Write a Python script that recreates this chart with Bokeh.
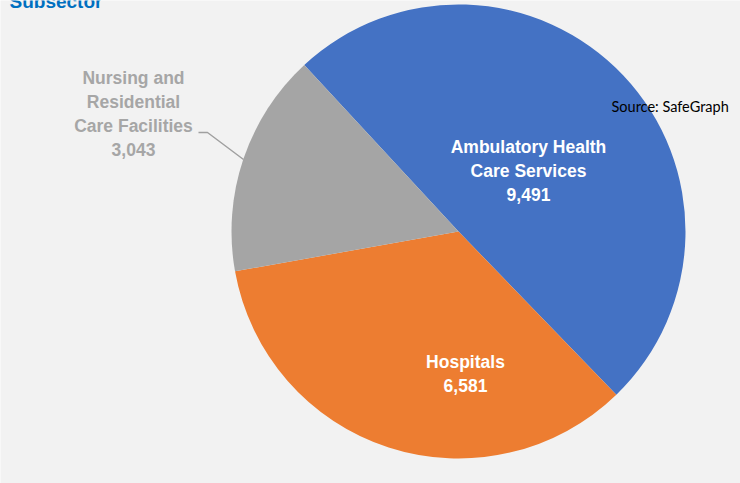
import math
from bokeh.plotting import figure
from bokeh.models import Range1d, ColumnDataSource
from bokeh.core.properties import value
from bokeh.embed import file_html
from bokeh.resources import INLINE

# ---- data ----
categories = ["Ambulatory Health\nCare Services", "Hospitals", "Nursing and\nResidential\nCare Facilities"]
counts = [9491, 6581, 3043]
colors = ["#4472C4", "#ED7D31", "#A5A5A5"]
title_text = "Subsector"
source_text = "Source: SafeGraph"

W, H = 740, 483
p = figure(width=W, height=H, x_range=Range1d(0, W), y_range=Range1d(0, H),
           output_backend="svg", toolbar_location=None, min_border=0)
p.axis.visible = False
p.grid.visible = False
p.outline_line_color = None
p.background_fill_color = "#F2F2F2"
p.border_fill_color = "#F2F2F2"

cx, cy, r = 458, 252, 227
start_deg = 132.8
total = sum(counts)
cum = 0
starts, ends = [], []
for c in counts:
    a0 = math.radians(start_deg - 360.0 * cum / total)
    cum += c
    a1 = math.radians(start_deg - 360.0 * cum / total)
    starts.append(a1)
    ends.append(a0)

src = ColumnDataSource(dict(start=starts, end=ends, color=colors))
p.wedge(x=cx, y=cy, radius=r, start_angle="start", end_angle="end",
        fill_color="color", line_color=None, source=src)

labels = [f"{cat}\n{v:,}" for cat, v in zip(categories, counts)]
label_x = [528, 465, 133]
label_y = [312.5, 109.5, 369.5]
label_colors = ["white", "white", "#A6A6A6"]
lsrc = ColumnDataSource(dict(x=label_x, y=label_y, text=labels, color=label_colors))
p.text(x="x", y="y", text="text", source=lsrc, text_color="color",
       text_font=value("Liberation Sans"), text_font_style="bold",
       text_font_size="17.5px", text_align="center", text_baseline="middle",
       text_line_height=1.2)

# leader line for the nursing label
p.line(x=[198, 207, 243], y=[351, 351, 324], line_color="#A0A0A0", line_width=1.5)

# source note
p.text(x=[611], y=[377], text=[source_text], text_color="#000000",
       text_font=value("Lato"), text_font_size="14.5px",
       text_align="left", text_baseline="middle")

# title, cut off at the top edge as in the original
p.text(x=[9], y=[482], text=[title_text], text_color="#0070C0",
       text_font=value("Liberation Sans"), text_font_style="bold",
       text_font_size="19px", text_align="left", text_baseline="alphabetic")

open("out.html", "w").write(file_html(p, INLINE))
